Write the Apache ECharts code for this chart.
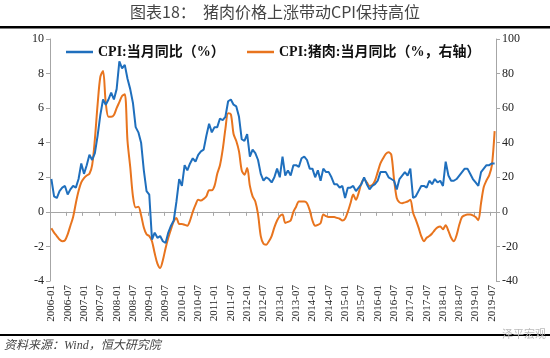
<!DOCTYPE html>
<html>
<head>
<meta charset="utf-8">
<script src="https://cdn.jsdelivr.net/npm/echarts@6/dist/echarts.min.js"></script>
<style>html,body{margin:0;padding:0;background:#fff;}#c{width:550px;height:358px;}</style>
</head>
<body>
<div id="c"></div>
<script>
// Categories: monthly 2006-01 .. 2019-08
const startYear = 2006, endYear = 2019, endMonth = 8;
const months = [];
for (let y = startYear; y <= endYear; y++) {
  for (let m = 1; m <= 12; m++) {
    if (y === endYear && m > endMonth) break;
    months.push(y + '-' + (m < 10 ? '0' + m : m));
  }
}

// CPI: 当月同比 (%) — left axis
const cpi = [
  1.9, 0.9, 0.8, 1.2, 1.4, 1.5, 1.0, 1.3, 1.5, 1.4, 1.9, 2.8,
  2.2, 2.7, 3.3, 3.0, 3.4, 4.4, 5.6, 6.5, 6.2, 6.5, 6.9, 6.5,
  7.1, 8.7, 8.3, 8.5, 7.7, 7.1, 6.3, 4.9, 4.6, 4.0, 2.4, 1.2,
  1.0, -1.6, -1.2, -1.5, -1.4, -1.7, -1.8, -1.2, -0.8, -0.5, 0.6, 1.9,
  1.5, 2.7, 2.4, 2.8, 3.1, 2.9, 3.3, 3.5, 3.6, 4.4, 5.1, 4.6,
  4.9, 4.9, 5.4, 5.3, 5.5, 6.4, 6.5, 6.2, 6.1, 5.5, 4.2, 4.1,
  4.5, 3.2, 3.6, 3.4, 3.0, 2.2, 1.8, 2.0, 1.9, 1.7, 2.0, 2.5,
  2.0, 3.2, 2.1, 2.4, 2.1, 2.7, 2.7, 2.6, 3.1, 3.2, 3.0, 2.5,
  2.5, 2.0, 2.4, 1.8, 2.5, 2.3, 2.3, 2.0, 1.6, 1.6, 1.4, 1.5,
  0.8, 1.4, 1.4, 1.5, 1.2, 1.4, 1.6, 2.0, 1.6, 1.3, 1.5, 1.6,
  1.8, 2.3, 2.3, 2.3, 2.0, 1.9, 1.8, 1.3, 1.9, 2.1, 2.3, 2.1,
  2.5, 0.8, 0.9, 1.2, 1.5, 1.5, 1.4, 1.8, 1.6, 1.9, 1.7, 1.8,
  1.5, 2.9, 2.1, 1.8, 1.8, 1.9, 2.1, 2.3, 2.5, 2.5, 2.2, 1.9,
  1.7, 1.5, 2.3, 2.5, 2.7, 2.7, 2.8, 2.8
];

// CPI: 猪肉: 当月同比 (%) — right axis
const porkCpi = [
  -9.5, -12, -14, -16, -17, -16.5, -13, -8, -3, 5, 12, 17,
  19.5, 21, 22, 27, 42, 62, 78, 81.5, 63, 55, 55, 56,
  60, 63.5, 67, 68, 41, 26, 9, 2.5, 3, -2, -9, -13,
  -14, -17, -24, -30, -32.5, -28, -21, -15, -10, -5.5, -3.5, -7,
  -7, -7.5, -8, -5, 0, 4, 7, 6.5, 7.5, 9, 12.5, 12.5,
  15, 22, 27, 36, 48, 57, 56.5, 45, 41, 35, 24, 21.5,
  25.4, 15, 9, 6, -1.5, -14, -18.5, -19, -17, -14, -9, -5,
  -2.5, -1.5, -6.4, -5.8, -5, 0, 3, 6, 6, 6, 5, 1,
  -5, -8, -7.5, -6.5, -1.5, -2.5, -3, -3, -3, -3.5, -4, -5,
  -4, 0, 5, 10, 7, 11, 16.5, 19, 17, 15, 15.5, 18,
  23, 28, 31, 33.5, 34.5, 33, 19, 8, 5.5, 5, 5.5, 6,
  7, -0.5, -4.5, -9, -14, -17, -15, -14, -12.5, -10.5, -9, -8.5,
  -10, -7.7, -11, -15, -17, -13.5, -7.5, -3, -2, -1.5, -1.5, -2,
  -3, -4.8, 5.1, 14.4, 18.2, 21.1, 27, 46.7
];

const leftTicks = { min: -4, max: 10, interval: 2 };
const rightTicks = { min: -40, max: 100, interval: 20 };

const nameCpi = 'CPI:当月同比（%）';
const namePork = 'CPI:猪肉:当月同比（%，右轴）';

const blue = '#1f6fbd';
const orange = '#e8741e';
const serif = "'Liberation Serif', 'Noto Sans CJK SC', serif";
const axisGray = '#a6a6a6';
const legendText = { fontSize: 14, fontWeight: 'bold', color: '#111', fontFamily: serif };

const chart = echarts.init(document.getElementById('c'), null, { renderer: 'canvas' });
chart.setOption({
  animation: false,
  backgroundColor: '#fff',
  grid: { left: 50, right: 54, top: 39, bottom: 77, containLabel: false },
  legend: [
    { data: [{ name: nameCpi, icon: 'rect' }], left: 61, top: 40, itemWidth: 27, itemHeight: 2.5, textStyle: legendText },
    { data: [{ name: namePork, icon: 'rect' }], left: 242, top: 40, itemWidth: 27, itemHeight: 2.5, textStyle: legendText }
  ],
  xAxis: [
    {
      type: 'category', data: months, boundaryGap: true, position: 'bottom',
      axisLine: { show: false, onZero: false }, axisTick: { show: false },
      axisLabel: { interval: 5, rotate: 90, margin: 4, fontSize: 11, color: '#222', fontFamily: serif }
    },
    {
      type: 'category', data: months, boundaryGap: true, position: 'bottom',
      axisLine: { show: true, onZero: true, onZeroAxisIndex: 0, lineStyle: { color: axisGray, width: 1 } },
      axisTick: { show: true, interval: 5, length: 4, lineStyle: { color: axisGray } },
      axisLabel: { show: false }
    }
  ],
  yAxis: [
    {
      type: 'value', min: leftTicks.min, max: leftTicks.max, interval: leftTicks.interval,
      axisLine: { show: true, lineStyle: { color: axisGray } },
      axisTick: { show: true, length: 4, lineStyle: { color: axisGray } },
      splitLine: { show: false },
      axisLabel: { margin: 6, fontSize: 12, color: '#222', fontFamily: serif }
    },
    {
      type: 'value', min: rightTicks.min, max: rightTicks.max, interval: rightTicks.interval,
      position: 'right',
      axisLine: { show: true, lineStyle: { color: axisGray } },
      axisTick: { show: true, length: 4, lineStyle: { color: axisGray } },
      splitLine: { show: false },
      axisLabel: { margin: 6, fontSize: 12, color: '#222', fontFamily: serif }
    }
  ],
  series: [
    {
      name: nameCpi, type: 'line', data: cpi, xAxisIndex: 0, yAxisIndex: 0,
      symbol: 'none', smooth: false, z: 3,
      lineStyle: { color: blue, width: 2 }, itemStyle: { color: blue }
    },
    {
      name: namePork, type: 'line', data: porkCpi, xAxisIndex: 0, yAxisIndex: 1,
      symbol: 'none', smooth: 0.3, z: 2,
      lineStyle: { color: orange, width: 2 }, itemStyle: { color: orange }
    }
  ],
  graphic: [
    { type: 'text', left: 'center', top: 4, style: { text: '图表18：  猪肉价格上涨带动CPI保持高位', fontSize: 16, fill: '#444', fontFamily: "'Noto Sans CJK SC', sans-serif" } },
    { type: 'rect', shape: { x: 0, y: 26, width: 550, height: 2.5 }, style: { fill: '#000' } },
    { type: 'rect', shape: { x: 0, y: 334, width: 550, height: 2 }, style: { fill: '#000' } },
    { type: 'text', left: 4, top: 340, style: { text: '资料来源：Wind，恒大研究院', fontSize: 12, fontStyle: 'italic', fill: '#444', fontFamily: serif } },
    { type: 'text', left: 502, top: 328, style: { text: '泽平宏观', fontSize: 11, fill: '#bbb', fontFamily: "'Noto Sans CJK SC', sans-serif" } }
  ]
});
</script>
</body>
</html>
